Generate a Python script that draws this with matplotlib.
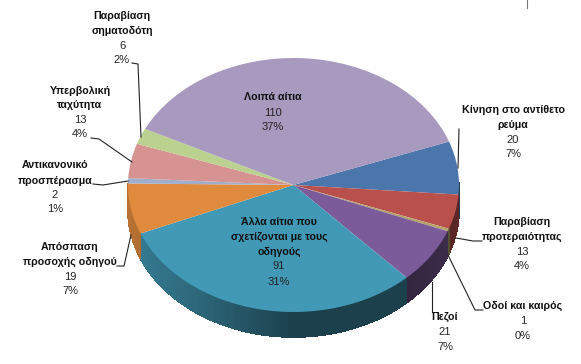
import numpy as np
import matplotlib
matplotlib.use("Agg")
import matplotlib.pyplot as plt
from matplotlib.colors import to_rgb

plt.rcParams["font.family"] = ["Liberation Sans", "DejaVu Sans"]

# clockwise from the upper right boundary of the blue slice
categories = [
    "Κίνηση στο αντίθετο\nρεύμα",
    "Παραβίαση\nπροτεραιότητας",
    "Οδοί και καιρός",
    "Πεζοί",
    "Άλλα αίτια που\nσχετίζονται με τους\nοδηγούς",
    "Απόσπαση\nπροσοχής οδηγού",
    "Αντικανονικό\nπροσπέρασμα",
    "Υπερβολική\nταχύτητα",
    "Παραβίαση\nσηματοδότη",
    "Λοιπά αίτια",
]
values = [20, 13, 1, 21, 91, 19, 2, 13, 6, 110]
percents = ["7%", "4%", "0%", "7%", "31%", "7%", "1%", "4%", "2%", "37%"]
colors = ["#4a76ab", "#b9504b", "#b5a46a", "#7b5b9a", "#4299b5",
          "#e08a3e", "#9faecb", "#d69391", "#bbd18f", "#a899bf"]

# label centre x and the y of each text line, in pixels
label_x = [513, 522, 523, 445, 279, 70, 55, 80, 122, 273]
label_y = [
    [110, 125, 140, 154],
    [222, 237, 252, 266],
    [306, 321, 336],
    [317, 332, 347],
    [222, 237, 252, 266, 282],
    [247, 262, 277, 291],
    [165, 181, 195, 209],
    [91, 105, 120, 134],
    [16, 31, 46, 60],
    [97, 113, 127],
]
leaders = [
    [(459, 129), (458, 168)],
    [(482, 241), (473, 241), (456, 238)],
    [(483, 310), (475, 310), (448, 255)],
    [(432, 312), (432, 282)],
    [(117, 266), (124, 266), (131, 235)],
    [(93, 184), (103, 185), (128, 181)],
    [(91, 138), (99, 139), (132, 162)],
    [(132, 63), (138, 64), (141, 137)],
]

W, H = 581, 364
START_ANGLE = 20
DEPTH = 25 / 127

fig = plt.figure(figsize=(W / 100, H / 100), dpi=100)

# pie axes span the ellipse of the top surface, so the circle gets squashed
ax = fig.add_axes([128 / W, (H - 312) / H, 331 / W, 254 / H])
ax.pie(values, colors=colors, startangle=START_ANGLE, counterclock=False, radius=1,
       wedgeprops={"linewidth": 0})
ax.set_aspect("auto")
ax.set_xlim(-1, 1)
ax.set_ylim(-1, 1)

# rim of the disc, shaded strip by strip
edges = START_ANGLE - np.cumsum([0] + values) * 360 / sum(values)
for a0, a1, col in zip(edges[:-1], edges[1:], colors):
    angles = np.arange(a0, a1 - 0.5, -1.0).tolist() + [a1]
    for t0, t1 in zip(angles[:-1], angles[1:]):
        mid = np.radians((t0 + t1) / 2)
        if np.sin(mid) > 0.02:
            continue
        shade = np.interp(np.cos(mid), [-1, -0.6, 0, 0.7, 1], [0.82, 0.68, 0.42, 0.42, 0.5])
        rgb = [c * shade for c in to_rgb(col)]
        x0, x1 = np.cos(np.radians([t0, t1]))
        y0, y1 = np.sin(np.radians([t0, t1]))
        ax.fill([x0, x1, x1, x0], [y0, y1, y1 - DEPTH, y0 - DEPTH], color=rgb,
                linewidth=0.5, antialiased=False, clip_on=False, zorder=0)

over = fig.add_axes([0, 0, 1, 1])
over.set_xlim(0, W)
over.set_ylim(H, 0)
over.axis("off")
over.patch.set_alpha(0)

for pts in leaders:
    xs, ys = zip(*pts)
    over.plot(xs, ys, color="#222222", lw=0.8)
over.plot([527, 527], [0, 8], color="#777777", lw=0.8)

for name, val, pct, x, ys in zip(categories, values, percents, label_x, label_y):
    lines = name.split("\n")
    for line, y in zip(lines, ys):
        over.text(x, y, line, ha="center", va="center", fontsize=7.7, fontweight="bold", color="#111111")
    over.text(x, ys[len(lines)], str(val), ha="center", va="center", fontsize=8, color="#222222")
    over.text(x, ys[len(lines) + 1], pct, ha="center", va="center", fontsize=8, color="#222222")

fig.savefig("out.png", dpi=100)
